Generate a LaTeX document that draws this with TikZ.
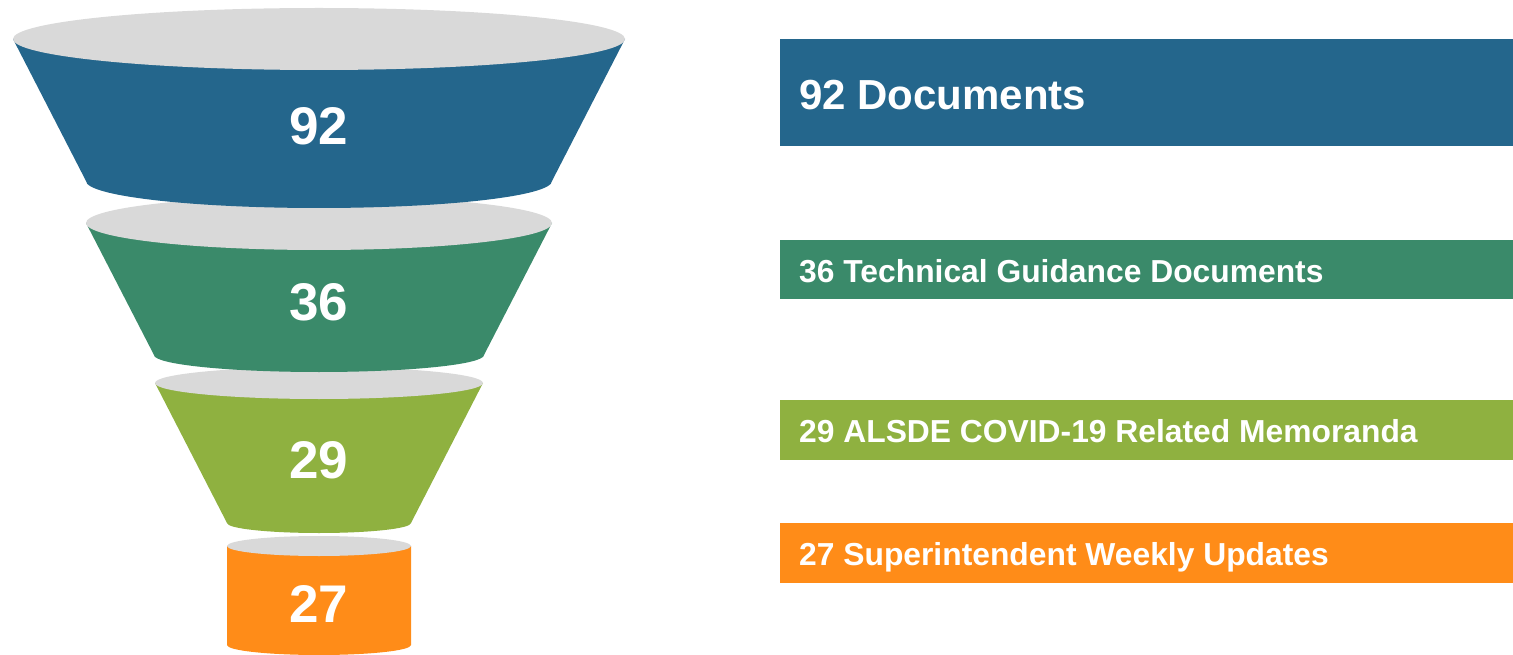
\documentclass[tikz,border=0pt]{standalone}
\usepackage{fontspec}
\setmainfont{Liberation Sans}
\usepackage{xcolor}
\usepackage{tikz}

\definecolor{fblue}{HTML}{24668C}
\definecolor{fgreen}{HTML}{3A8A6A}
\definecolor{flime}{HTML}{8FB140}
\definecolor{forange}{HTML}{FF8C18}
\definecolor{fgray}{HTML}{D9D9D9}

\begin{document}
\begin{tikzpicture}[x=1pt, y=-1pt,
    count/.style={font=\fontsize{53}{60}\selectfont\bfseries, text=white, inner sep=0pt, anchor=base},
    barlabel/.style={font=\fontsize{31.8}{38}\selectfont\bfseries, text=white, inner sep=0pt, anchor=base west}]

\useasboundingbox (0,0) rectangle (1513,655);

% Funnel, from the bottom layer up so each layer covers the one below
\foreach \yt/\wt/\ht/\yb/\wb/\hb/\col/\num/\base in {
    546/92/10/645/92/10/forange/27/622,
    383/164/16/523/92/10/flime/29/478,
    223/233/27/355/165/17/fgreen/36/320,
    39/306/31/181/233/27/fblue/92/145
} {
    \fill[\col] (319-\wt,\yt) -- (319-\wb,\yb)
        arc[start angle=180, end angle=0, x radius=\wb, y radius=\hb]
        -- (319+\wt,\yt) -- cycle;
    \fill[fgray] (319,\yt) ellipse[x radius=\wt, y radius=\ht];
    \node[count] (num\num) at (319,\base) {\num};
}

% Legend bars
\fill[fblue] (780,39) rectangle (1513,146);
\node[barlabel, font=\fontsize{42}{50}\selectfont\bfseries] (lab92) at (799,110) {92 Documents};

\fill[fgreen] (780,240) rectangle (1513,299);
\node[barlabel] (lab36) at (799,283) {36 Technical Guidance Documents};

\fill[flime] (780,400) rectangle (1513,460);
\node[barlabel] (lab29) at (799,442) {29 ALSDE COVID-19 Related Memoranda};

\fill[forange] (780,523) rectangle (1513,583);
\node[barlabel] (lab27) at (799,565) {27 Superintendent Weekly Updates};

\end{tikzpicture}
\end{document}
